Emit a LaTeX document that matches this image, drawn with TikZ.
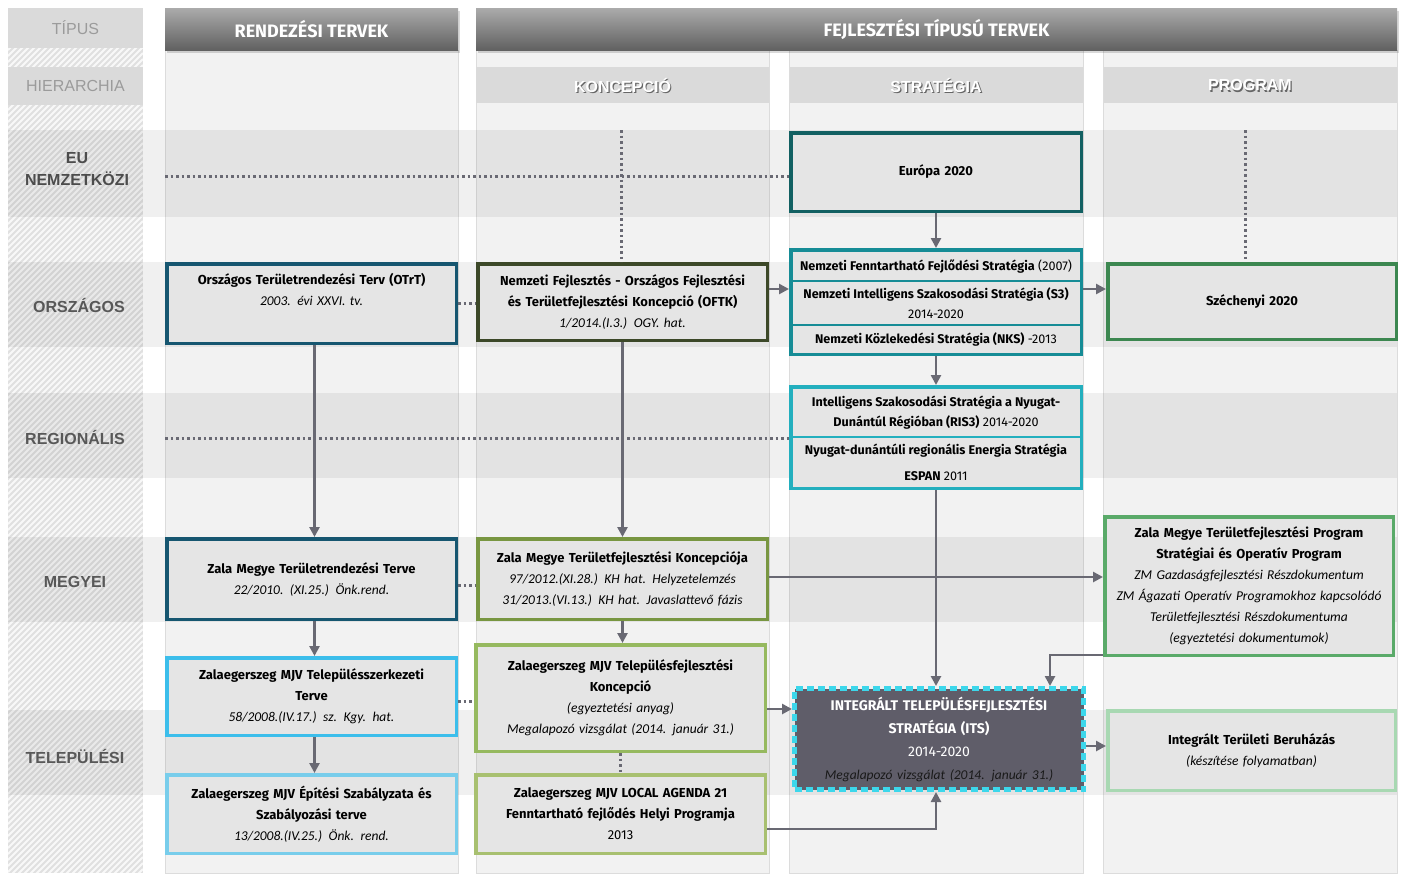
\documentclass[tikz,border=0pt]{standalone}
\usepackage{fontspec}
\setmainfont{Fira Sans}
\newfontfamily\labelfont{Liberation Sans}
\newfontfamily\reffont{Carlito}
\usetikzlibrary{positioning,arrows.meta}

\newcommand\reftext[1]{{\reffont\fontsize{13.5}{21}\selectfont\itshape #1}}

\definecolor{boxfill}{RGB}{229,229,229}
\definecolor{colbody}{RGB}{242,242,242}
\definecolor{colline}{RGB}{220,220,220}
\definecolor{hatchgrey}{RGB}{224,224,224}
\definecolor{subhead}{RGB}{218,218,218}
\definecolor{labelgrey}{RGB}{88,88,88}
\definecolor{lightlabel}{RGB}{155,155,155}
\definecolor{arrowgrey}{RGB}{105,105,115}
\definecolor{dotgrey}{RGB}{105,105,115}
\definecolor{rendblue}{RGB}{22,86,112}
\definecolor{oftkolive}{RGB}{60,72,40}
\definecolor{euteal}{RGB}{18,96,98}
\definecolor{nemteal}{RGB}{22,140,150}
\definecolor{regcyan}{RGB}{35,175,190}
\definecolor{szechgreen}{RGB}{60,135,80}
\definecolor{zmolive}{RGB}{120,150,65}
\definecolor{zmgreen}{RGB}{90,170,105}
\definecolor{szerkblue}{RGB}{60,190,235}
\definecolor{epitblue}{RGB}{120,205,235}
\definecolor{konclime}{RGB}{150,185,95}
\definecolor{agendalime}{RGB}{168,192,112}
\definecolor{itsfill}{RGB}{95,93,105}
\definecolor{itsdash}{RGB}{60,215,235}
\definecolor{itbgreen}{RGB}{168,216,178}

\begin{document}
\begin{tikzpicture}[x=1pt,y=-1pt,
    planbox/.style={rectangle, draw, fill=boxfill, line width=3.5pt, align=center, inner sep=2pt,
                    font=\fontsize{13}{21}\selectfont},
    rowtext/.style={align=center, inner sep=0pt, font=\fontsize{12.6}{20}\selectfont},
    rowline/.style={draw=#1, line width=1.5pt},
    levellabel/.style={align=center, text=labelgrey, font=\labelfont\bfseries\fontsize{16}{22}\selectfont},
    headbar/.style={rectangle, top color=black!33, bottom color=black!62, draw=none, text=white,
                    font=\bfseries\fontsize{18}{20}\selectfont},
    subbar/.style={rectangle, fill=subhead, draw=none, minimum height=36pt, minimum width=293pt},
    subtext/.style={text=#1, font=\labelfont\bfseries\fontsize{16}{20}\selectfont},
    flow/.style={draw=arrowgrey, line width=2.5pt, -{Triangle[length=10pt,width=10pt]}},
    dotlink/.style={draw=dotgrey, line width=3pt, dash pattern=on 2.5pt off 3pt}]
  \useasboundingbox (0,0) rectangle (1402,873);
  \fill[white] (0,0) rectangle (1402,873);

  % Left hatched column
  \begin{scope}
    \clip (8,8) rectangle (143,873);
    \fill[hatchgrey] (8,8) rectangle (143,873);
    \foreach \k in {8,14,...,1020}
      \draw[white, line width=1.8pt, opacity=0.8] (8,\k) -- ++(135,-135);
  \end{scope}

  % Column bodies
  \foreach \xa/\xb in {165/458, 476/769, 789/1083, 1103/1397}
    \filldraw[fill=colbody, draw=colline, line width=0.8pt] (\xa,50) rectangle (\xb,873);

  % Level bands
  \foreach \ya/\yb in {130/217, 262/347, 393/478, 537/622, 710/795}
    \fill[black, opacity=0.06] (8,\ya) rectangle (1397,\yb);

  % Headers
  \fill[black, opacity=0.15] (167,11) rectangle (460,53);
  \fill[black, opacity=0.15] (478,11) rectangle (1399,53);
  \node[headbar, minimum width=293pt, minimum height=42pt] (hrend) at (311.5,29) {RENDEZÉSI TERVEK};
  \node[headbar, minimum width=921pt, minimum height=42pt] (hfejl) at (936.5,29) {FEJLESZTÉSI TÍPUSÚ TERVEK};

  \node[rectangle, fill=subhead, minimum width=135pt, minimum height=40pt, text=lightlabel,
        font=\labelfont\fontsize{16}{20}\selectfont] (htipus) at (75.5,28) {TÍPUS};
  \node[rectangle, fill=subhead, minimum width=135pt, minimum height=38pt, text=lightlabel,
        font=\labelfont\fontsize{16}{20}\selectfont] (hhier) at (75.5,86) {HIERARCHIA};

  \node[subbar] (bkonc) at (622.5,85) {};
  \node[subbar] (bstrat) at (936,85) {};
  \node[subbar] (bprog) at (1250,85) {};
  \node[subtext=black!60] (skonc) at ([xshift=1.2pt,yshift=-1.5pt]bkonc.center) {KONCEPCIÓ};
  \node[subtext=white] (tkonc) at (bkonc.center) {KONCEPCIÓ};
  \node[subtext=black!60] (sstrat) at ([xshift=1.2pt,yshift=-1.5pt]bstrat.center) {STRATÉGIA};
  \node[subtext=white] (tstrat) at (bstrat.center) {STRATÉGIA};
  \node[subtext=black!60] (sprog) at ([xshift=1.2pt,yshift=-1.5pt]bprog.center) {PROGRAM};
  \node[subtext=white] (tprog) at (bprog.center) {PROGRAM};

  % Level labels
  \node[levellabel, text=black!70] (leu) at (77,169) {EU\\NEMZETKÖZI};
  \node[levellabel] (lorsz) at (79,305) {ORSZÁGOS};
  \node[levellabel] (lreg) at (75,437) {REGIONÁLIS};
  \node[levellabel] (lmegy) at (75,582) {MEGYEI};
  \node[levellabel] (ltel) at (75,756) {TELEPÜLÉSI};

  % Plan boxes
  \node[planbox, draw=rendblue, minimum width=289.5pt, minimum height=79.5pt, text width=280pt] (otrt) at (311.5,303.5)
    {\textbf{Országos Területrendezési Terv (OTrT)}\\\reftext{2003. évi XXVI. tv.}\\\strut};
  \node[planbox, draw=oftkolive, minimum width=289.5pt, minimum height=76.5pt, text width=280pt] (oftk) at (622.5,302)
    {\textbf{Nemzeti Fejlesztés - Országos Fejlesztési}\\\textbf{és Területfejlesztési Koncepció (OFTK)}\\\reftext{1/2014.(I.3.) OGY. hat.}};
  \node[planbox, draw=euteal, minimum width=290.5pt, minimum height=78.5pt, text width=280pt] (europa) at (936,172)
    {\textbf{Európa 2020}};
  \node[planbox, draw=nemteal, minimum width=290.5pt, minimum height=104.5pt] (nemzeti) at (936,302) {};
  \node[rowtext] (nffs) at (936,266) {\textbf{Nemzeti Fenntartható Fejlődési Stratégia} (2007)};
  \node[rowtext] (nis3) at (936,303) {\textbf{Nemzeti Intelligens Szakosodási Stratégia (S3)}\\2014-2020};
  \node[rowtext] (nks) at (936,339) {\textbf{Nemzeti Közlekedési Stratégia (NKS)} -2013};
  \draw[rowline=nemteal] (nemzeti.west |- 0,281) -- (nemzeti.east |- 0,281);
  \draw[rowline=nemteal] (nemzeti.west |- 0,325) -- (nemzeti.east |- 0,325);

  \node[planbox, draw=regcyan, minimum width=290.5pt, minimum height=101.5pt] (regio) at (936,437.5) {};
  \node[rowtext] (ris3) at (936,413) {\textbf{Intelligens Szakosodási Stratégia a Nyugat-}\\\textbf{Dunántúl Régióban (RIS3)} 2014-2020};
  \node[rowtext, font=\fontsize{12.6}{26}\selectfont] (espan) at (936,462) {\textbf{Nyugat-dunántúli regionális Energia Stratégia}\\\textbf{ESPAN} 2011};
  \draw[rowline=regcyan] (regio.west |- 0,437) -- (regio.east |- 0,437);

  \node[planbox, draw=szechgreen, minimum width=288.5pt, minimum height=75.5pt, text width=280pt] (szech) at (1252,301.5)
    {\textbf{Széchenyi 2020}};
  \node[planbox, draw=rendblue, minimum width=289.5pt, minimum height=80.5pt, text width=280pt] (zmrend) at (311.5,579)
    {\textbf{Zala Megye Területrendezési Terve}\\\reftext{22/2010. (XI.25.) Önk.rend.}};
  \node[planbox, draw=zmolive, minimum width=289.5pt, minimum height=80.5pt, text width=280pt] (zmkonc) at (622.5,579)
    {\textbf{Zala Megye Területfejlesztési Koncepciója}\\\reftext{97/2012.(XI.28.) KH hat. Helyzetelemzés}\\\reftext{31/2013.(VI.13.) KH hat. Javaslattevő fázis}};
  \node[planbox, draw=zmgreen, minimum width=288.5pt, minimum height=138.5pt, text width=284pt] (zmprog) at (1249,586)
    {\textbf{Zala Megye Területfejlesztési Program}\\\textbf{Stratégiai és Operatív Program}\\\reftext{ZM Gazdaságfejlesztési Részdokumentum}\\\reftext{ZM Ágazati Operatív Programokhoz kapcsolódó}\\\reftext{Területfejlesztési Részdokumentuma}\\\reftext{(egyeztetési dokumentumok)}};
  \node[planbox, draw=szerkblue, minimum width=289.5pt, minimum height=77.5pt, text width=280pt] (zszerk) at (311.5,696.5)
    {\textbf{Zalaegerszeg MJV Településszerkezeti}\\\textbf{Terve}\\\reftext{58/2008.(IV.17.) sz. Kgy. hat.}};
  \node[planbox, draw=epitblue, minimum width=289.5pt, minimum height=78.5pt, text width=280pt] (zepit) at (311.5,814)
    {\textbf{Zalaegerszeg MJV Építési Szabályzata és}\\\textbf{Szabályozási terve}\\\reftext{13/2008.(IV.25.) Önk. rend.}};
  \node[planbox, draw=konclime, minimum width=289.5pt, minimum height=106.5pt, text width=280pt] (zkonc) at (620.5,698)
    {\textbf{Zalaegerszeg MJV Településfejlesztési}\\\textbf{Koncepció}\\\reftext{(egyeztetési anyag)}\\\reftext{Megalapozó vizsgálat (2014. január 31.)}};
  \node[planbox, draw=agendalime, minimum width=289.5pt, minimum height=78.5pt, text width=280pt] (agenda) at (620.5,814)
    {\textbf{Zalaegerszeg MJV LOCAL AGENDA 21}\\\textbf{Fenntartható fejlődés Helyi Programja}\\2013};
  \node[planbox, fill=itsfill, draw=itsdash, line width=5pt, dash pattern=on 7pt off 4pt, text=white,
        minimum width=289pt, minimum height=101pt, text width=280pt, font=\fontsize{14}{23}\selectfont] (its) at (939,739)
    {\textbf{INTEGRÁLT TELEPÜLÉSFEJLESZTÉSI}\\\textbf{STRATÉGIA (ITS)}\\2014-2020\\{\color{black!90}\reftext{Megalapozó vizsgálat (2014. január 31.)}}};
  \node[planbox, draw=itbgreen, minimum width=287.5pt, minimum height=79.5pt, text width=280pt] (itb) at (1251.5,750.5)
    {\textbf{Integrált Területi Beruházás}\\\reftext{(készítése folyamatban)}};

  % Dotted links
  \coordinate (eustart) at (165,176);
  \coordinate (regstart) at (165,438);
  \coordinate (konctop) at (621,130);
  \coordinate (progtop) at (1245,130);
  \draw[dotlink] (eustart) -- (eustart -| europa.west);
  \draw[dotlink] (regstart) -- (regstart -| regio.west);
  \draw[dotlink] (konctop) -- (konctop |- oftk.north);
  \draw[dotlink] (progtop) -- (progtop |- szech.north);
  \draw[dotlink] (otrt.east) -- (otrt.east -| oftk.west);
  \draw[dotlink] ([yshift=-6pt]zmrend.east) -- ([yshift=-6pt]zmrend.east -| zmkonc.west);
  \draw[dotlink] ([yshift=-5pt]zszerk.east) -- ([yshift=-5pt]zszerk.east -| zkonc.west);
  \draw[dotlink] (zkonc.south) -- (agenda.north);

  % Arrows
  \draw[flow] (europa.south) -- (nemzeti.north);
  \draw[flow] (nemzeti.south) -- (regio.north);
  \draw[flow] (regio.south) -- (regio.south |- its.north);
  \draw[flow] ([yshift=13pt]oftk.east) -- ([yshift=13pt]oftk.east -| nemzeti.west);
  \draw[flow] ([yshift=13pt]nemzeti.east) -- ([yshift=13pt]nemzeti.east -| szech.west);
  \draw[flow] ([xshift=3pt]otrt.south) -- ([xshift=3pt]zmrend.north);
  \draw[flow] (oftk.south) -- (zmkonc.north);
  \draw[flow] ([xshift=3pt]zmrend.south) -- ([xshift=3pt]zszerk.north);
  \draw[flow] ([xshift=3pt]zszerk.south) -- ([xshift=3pt]zepit.north);
  \draw[flow] (zmkonc.south) -- (zmkonc.south |- zkonc.north);
  \draw[flow] ([yshift=2pt]zmkonc.east) -- ([yshift=2pt]zmkonc.east -| zmprog.west);
  \draw[flow] ([yshift=-11pt]zkonc.east) -- ([yshift=-11pt]zkonc.east -| its.west);
  \draw[flow] ([yshift=-15pt]agenda.east) -| ([xshift=-3pt]its.south);
  \draw[flow] ([yshift=2pt]zmprog.south west) -| ([xshift=111pt]its.north);
  \draw[flow] ([yshift=-7pt]its.east) -- ([yshift=-7pt]its.east -| itb.west);
\end{tikzpicture}
\end{document}
